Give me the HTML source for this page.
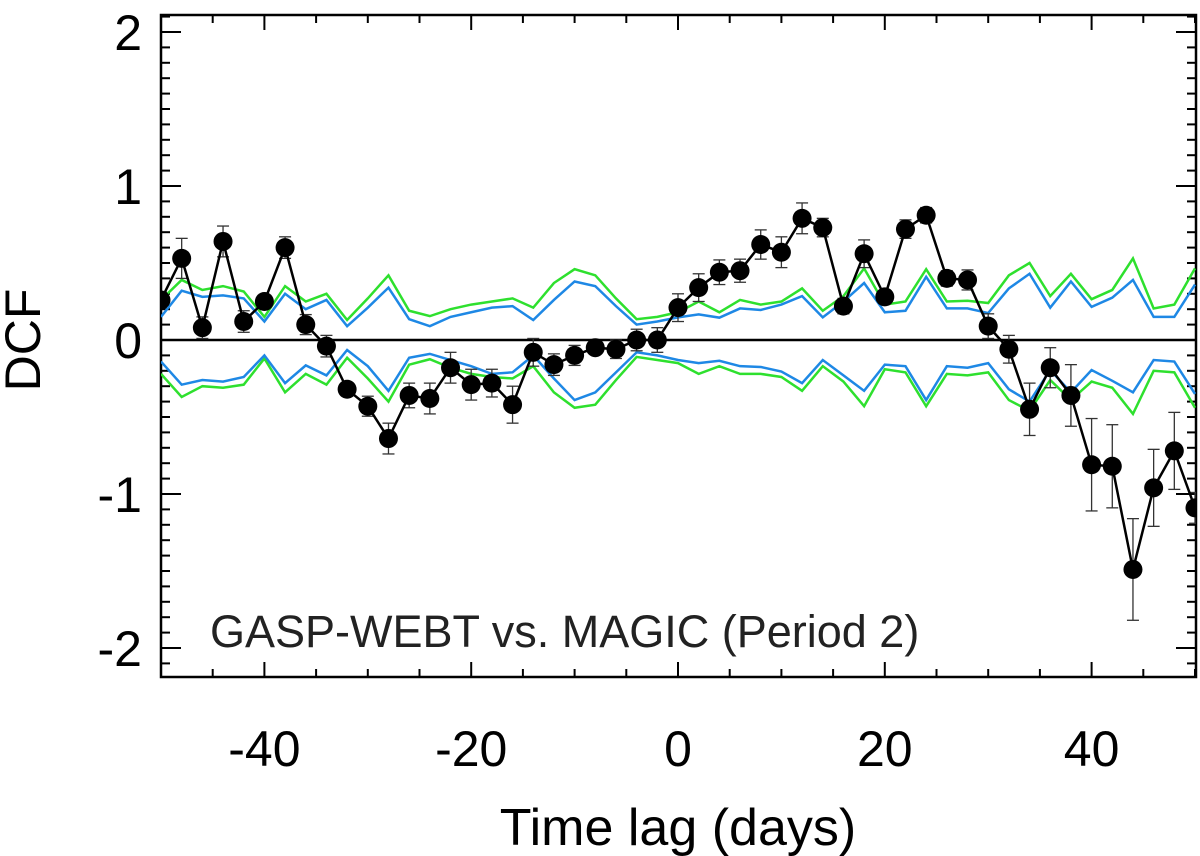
<!DOCTYPE html>
<html><head><meta charset="utf-8"><style>
html,body{margin:0;padding:0;background:#fff;}
svg{display:block;font-family:"Liberation Sans",Helvetica,Arial,sans-serif;}
</style></head><body>
<svg id="chart" width="1200" height="856" viewBox="0 0 1200 856">
<defs><clipPath id="clip"><rect x="161" y="15" width="1035" height="662"/></clipPath></defs>
<g id="axes"></g>
<g id="plot" clip-path="url(#clip)"></g>
<text x="210" y="647" font-size="45" fill="#222">GASP-WEBT vs. MAGIC (Period 2)</text>
<text x="678" y="845" font-size="52" text-anchor="middle" fill="#000">Time lag (days)</text>
<text transform="translate(40,340) rotate(-90)" font-size="50" text-anchor="middle" fill="#000">DCF</text>
</svg>
<script>
const lags = [-50,-48,-46,-44,-42,-40,-38,-36,-34,-32,-30,-28,-26,-24,-22,-20,-18,-16,-14,-12,-10,-8,-6,-4,-2,0,2,4,6,8,10,12,14,16,18,20,22,24,26,28,30,32,34,36,38,40,42,44,46,48,50];
const dcf = [0.26,0.53,0.08,0.64,0.12,0.25,0.60,0.10,-0.04,-0.32,-0.43,-0.64,-0.36,-0.38,-0.18,-0.29,-0.28,-0.42,-0.08,-0.16,-0.10,-0.05,-0.06,0.0,0.0,0.21,0.34,0.44,0.45,0.62,0.57,0.79,0.73,0.22,0.56,0.28,0.72,0.81,0.40,0.39,0.09,-0.06,-0.45,-0.18,-0.36,-0.81,-0.82,-1.49,-0.96,-0.72,-1.09];
const dcfErr = [0.05,0.13,0.07,0.10,0.07,0.02,0.07,0.065,0.07,0.03,0.065,0.10,0.08,0.10,0.10,0.10,0.09,0.12,0.09,0.07,0.065,0.03,0.06,0.07,0.08,0.09,0.09,0.08,0.075,0.095,0.10,0.10,0.06,0.05,0.09,0.04,0.06,0.05,0.05,0.065,0.08,0.09,0.17,0.13,0.20,0.30,0.27,0.33,0.25,0.25,0.10];
const greenUpper = [0.26,0.39,0.325,0.35,0.315,0.15,0.35,0.25,0.30,0.13,0.27,0.42,0.19,0.155,0.20,0.23,0.25,0.27,0.21,0.37,0.46,0.42,0.27,0.135,0.15,0.18,0.25,0.18,0.26,0.23,0.25,0.335,0.19,0.285,0.465,0.23,0.25,0.46,0.25,0.255,0.24,0.42,0.50,0.285,0.43,0.265,0.325,0.53,0.205,0.23,0.465];
const blueUpper = [0.15,0.32,0.28,0.29,0.27,0.12,0.30,0.20,0.26,0.09,0.21,0.34,0.135,0.09,0.15,0.18,0.21,0.22,0.13,0.26,0.38,0.35,0.22,0.10,0.12,0.147,0.166,0.145,0.205,0.195,0.23,0.285,0.147,0.25,0.37,0.18,0.19,0.41,0.205,0.205,0.175,0.335,0.43,0.21,0.38,0.215,0.275,0.39,0.15,0.15,0.36];
const blueLower = [-0.14,-0.29,-0.26,-0.27,-0.24,-0.10,-0.28,-0.165,-0.23,-0.065,-0.17,-0.33,-0.115,-0.09,-0.13,-0.17,-0.22,-0.21,-0.10,-0.25,-0.39,-0.34,-0.21,-0.08,-0.10,-0.13,-0.15,-0.135,-0.17,-0.175,-0.205,-0.28,-0.13,-0.23,-0.33,-0.16,-0.17,-0.39,-0.17,-0.18,-0.15,-0.32,-0.40,-0.195,-0.34,-0.195,-0.265,-0.34,-0.13,-0.14,-0.35];
const greenLower = [-0.22,-0.37,-0.30,-0.31,-0.29,-0.12,-0.34,-0.22,-0.29,-0.115,-0.25,-0.40,-0.16,-0.125,-0.18,-0.22,-0.24,-0.25,-0.17,-0.34,-0.44,-0.42,-0.26,-0.11,-0.13,-0.15,-0.22,-0.17,-0.22,-0.22,-0.24,-0.33,-0.17,-0.27,-0.43,-0.19,-0.21,-0.43,-0.22,-0.23,-0.21,-0.39,-0.46,-0.26,-0.39,-0.27,-0.31,-0.48,-0.20,-0.21,-0.44];
const xTicks = [-40,-20,0,20,40];
const yTicks = [-2,-1,0,1,2];

const NS = "http://www.w3.org/2000/svg";
const X0=161, X1=1196, Y0=15, Y1=677;
function xs(d){return 678 + d*10.34;}
function ys(v){return 340 - v*154;}
function mk(tag, attrs, parent){const e=document.createElementNS(NS,tag);for(const k in attrs)e.setAttribute(k,attrs[k]);parent.appendChild(e);return e;}
const axes=document.getElementById('axes'), plot=document.getElementById('plot');

const frame = mk('rect',{x:X0,y:Y0,width:X1-X0,height:Y1-Y0,fill:'none',stroke:'#000','stroke-width':2.5},axes);



for(let d=-50; d<=50; d+=5){
  const major = xTicks.includes(d);
  const L = major?15:8, x=xs(d);
  const t1=mk('line',{x1:x,x2:x,y1:Y1,y2:Y1-L,stroke:'#000','stroke-width':2},axes);
  
  
  const t2=mk('line',{x1:x,x2:x,y1:Y0,y2:Y0+L,stroke:'#000','stroke-width':2},axes);
  
  
}
xTicks.forEach(d=>{
  const t=mk('text',{x:xs(d),y:766,'font-size':50,'text-anchor':'middle'},axes);
  t.textContent=String(d);
  
  
});
for(let i=-21;i<=21;i++){
  const v=i/10; const y=ys(v);
  if(y<Y0||y>Y1) continue;
  const major = (i%10===0);
  const L = major?20:9;
  const t1=mk('line',{x1:X0,x2:X0+L,y1:y,y2:y,stroke:'#000','stroke-width':2},axes);
  
  
  const t2=mk('line',{x1:X1,x2:X1-L,y1:y,y2:y,stroke:'#000','stroke-width':2},axes);
  
  
}
yTicks.forEach(v=>{
  const t=mk('text',{x:142,y:ys(v)+18,'font-size':50,'text-anchor':'end'},axes);
  t.textContent=String(v);
  
  
});

const z=mk('line',{x1:X0,x2:X1,y1:ys(0),y2:ys(0),stroke:'#000','stroke-width':2.5},plot);



function series(arr,color,name){
  const p=mk('polyline',{points:arr.map((v,i)=>xs(lags[i])+','+ys(v)).join(' '),fill:'none',stroke:color,'stroke-width':2.5},plot);
  
  
}
series(greenUpper,'#2ee02e','green-upper-significance');
series(greenLower,'#2ee02e','green-lower-significance');
series(blueUpper,'#1e88e5','blue-upper-significance');
series(blueLower,'#1e88e5','blue-lower-significance');

dcf.forEach((v,i)=>{
  const x=xs(lags[i]), e=dcfErr[i];
  const g=mk('g',{stroke:'#333','stroke-width':1.3},plot);
  
  
  mk('line',{x1:x,x2:x,y1:ys(v+e),y2:ys(v-e)},g);
  mk('line',{x1:x-6,x2:x+6,y1:ys(v+e),y2:ys(v+e)},g);
  mk('line',{x1:x-6,x2:x+6,y1:ys(v-e),y2:ys(v-e)},g);
});
const dl=mk('polyline',{points:dcf.map((v,i)=>xs(lags[i])+','+ys(v)).join(' '),fill:'none',stroke:'#000','stroke-width':2.5},plot);


dcf.forEach((v,i)=>{
  const c=mk('circle',{cx:xs(lags[i]),cy:ys(v),r:9.5,fill:'#000'},plot);
  
  
});
</script>
</body></html>
